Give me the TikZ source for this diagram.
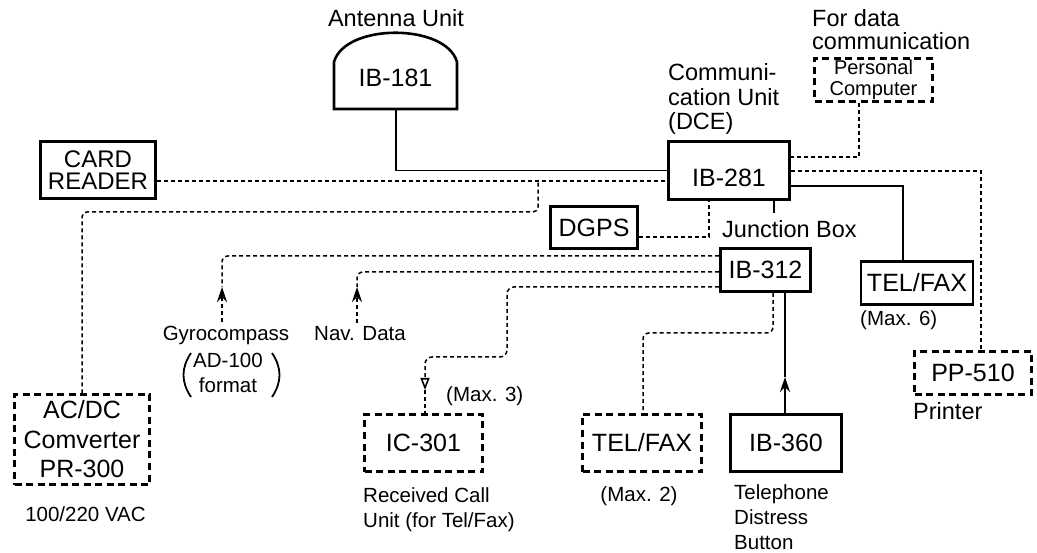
\documentclass[tikz,border=0pt]{standalone}
\usepackage{fontspec}
\setmainfont{Liberation Sans}
\usetikzlibrary{arrows.meta}
\begin{document}
\begin{tikzpicture}[x=1pt,y=-1pt,
  box/.style={draw, line width=2.6pt, inner sep=0pt, align=center, font=\fontsize{25}{29}\selectfont},
  dbox/.style={box, dash pattern=on 7pt off 4.5pt, line width=2.4pt},
  conn/.style={line width=1.5pt, dash pattern=on 4pt off 3pt},
  wire/.style={line width=1.8pt},
  lab/.style={inner sep=0pt, align=left, font=\fontsize{23.5}{24.5}\selectfont},
  note/.style={inner sep=0pt, align=left, font=\fontsize{20.5}{25}\selectfont},
  uparrow/.style={-{Stealth[length=15pt,width=10pt,inset=5pt]}},
  openarrow/.style={-{Triangle[open,length=12pt,width=9pt,line width=1.6pt]}},
  paren/.style={line width=1.8pt},
]
\useasboundingbox (0,0) rectangle (1037,553);

% boxes
\node[box, minimum width=115, minimum height=57, font=\fontsize{24}{22}\selectfont] (card) at (98,170) {CARD\\READER};
\node[box, minimum width=121, minimum height=58, text height=32pt] (ib281) at (729,170.5) {IB-281};
\node[dbox, minimum width=118, minimum height=43, font=\fontsize{20}{21}\selectfont] (pc) at (873.5,80) {Personal\\Computer};
\node[box, minimum width=87, minimum height=42] (dgps) at (594,227.5) {DGPS};
\node[box, minimum width=90, minimum height=43] (ib312) at (765.5,270) {IB-312};
\node[box, minimum width=112, minimum height=43] (tf1) at (917,283) {TEL/FAX};
\node[dbox, minimum width=117, minimum height=43] (pp) at (973,373) {PP-510};
\node[box, minimum width=111, minimum height=57] (ib360) at (786,443) {IB-360};
\node[dbox, minimum width=119, minimum height=57] (tf2) at (642,443) {TEL/FAX};
\node[dbox, minimum width=118, minimum height=57] (ic) at (423.5,443) {IC-301};
\node[dbox, minimum width=135, minimum height=90, font=\fontsize{25}{29.5}\selectfont] (acdc) at (82,439.5) {AC/DC\\Comverter\\PR-300};

% antenna
\draw[line width=2.6pt] (334,109) -- (334,62) .. controls (345,23) and (446,23) .. (457,62) -- (457,109) -- cycle;
\node[inner sep=0pt, font=\fontsize{25}{29}\selectfont] (ant) at (395.5,77.5) {IB-181};
\coordinate (antb) at (396,109);

% labels (multi-line: base = last line)
\node[lab, anchor=base] (antlab) at (396,27) {Antenna Unit};
\node[lab, anchor=base west] (commlab) at (668,130) {Communi-\\cation Unit\\(DCE)};
\node[lab, anchor=base west, font=\fontsize{23.5}{22.5}\selectfont] (forlab) at (812,49.5) {For data\\communication};
\node[lab, anchor=base west] (jblab) at (722,238) {Junction Box};
\node[note, anchor=base west] (max6) at (860,326) {(Max. 6)};
\node[lab, anchor=base west] (prn) at (913,420) {Printer};
\node[note, anchor=base west] (tdb) at (734,549) {Telephone\\Distress\\Button};
\node[note, anchor=base] (max2) at (639,501) {(Max. 2)};
\node[note, anchor=base west] (rcu) at (363,527) {Received Call\\Unit (for Tel/Fax)};
\node[note, anchor=base west] (max3) at (446,402) {(Max. 3)};
\node[note, anchor=base] (gyro) at (226,341) {Gyrocompass};
\node[note, anchor=base] (nav) at (360,341) {Nav. Data};
\node[note, align=center, anchor=base] (gfmt) at (228,393) {AD-100\\format};
\draw[paren] (191,353) .. controls (181,368) and (181,382) .. (191,397);
\draw[paren] (272,353) .. controls (282,368) and (282,382) .. (272,397);
\node[note, anchor=base] (vac) at (85.5,521) {100/220 VAC};

% connectors
\coordinate (j1) at (538,181);
\coordinate (j2) at (538,212);
\draw[conn] (card.east |- j1) -- (ib281.west |- j1);
\draw[conn, rounded corners=5pt] (acdc.north) |- (j2) -- (j1);
\draw[wire] (antb) |- (ib281.west);
\coordinate (d1) at (709,237);
\draw[conn] (dgps.east |- d1) -| (ib281.south -| d1);
\coordinate (stub) at (774,213);
\draw[wire] (ib281.south -| stub) -- (stub);
\coordinate (p1) at (859,157);
\draw[conn] (pc.south -| p1) |- (ib281.east |- p1);
\coordinate (p2) at (981,171);
\draw[conn] (ib281.east |- p2) -| (pp.north -| p2);
\coordinate (p3) at (903,186);
\draw[wire] (ib281.east |- p3) -| (tf1.north -| p3);

\coordinate (g1) at (222,256);
\coordinate (g2) at (222,287);
\draw[conn, rounded corners=6pt] (ib312.west |- g1) -| (g2);
\draw[conn, uparrow] ([yshift=4pt]gyro.north -| g2) -- (g2);

\coordinate (n1) at (357,272);
\coordinate (n2) at (357,287);
\draw[conn, rounded corners=6pt] (ib312.west |- n1) -| (n2);
\draw[conn, uparrow] ([yshift=4pt]nav.north -| n2) -- (n2);

\coordinate (i1) at (507,287);
\coordinate (i2) at (425,357);
\coordinate (i3) at (425,390);
\draw[conn, rounded corners=7pt, openarrow] (ib312.west |- i1) -- (i1) |- (i2) -- (i3);
\draw[conn] (i3) -- (ic.north -| i3);

\coordinate (t1) at (773,333);
\coordinate (t2) at (643,333);
\draw[conn, rounded corners=6pt] (ib312.south -| t1) -- (t1) -- (t2) -- (tf2.north -| t2);

\coordinate (a360) at (785,377);
\draw[wire, uparrow] (ib360.north -| a360) -- (a360);
\draw[wire] (a360) -- (ib312.south -| a360);
\end{tikzpicture}
\end{document}
